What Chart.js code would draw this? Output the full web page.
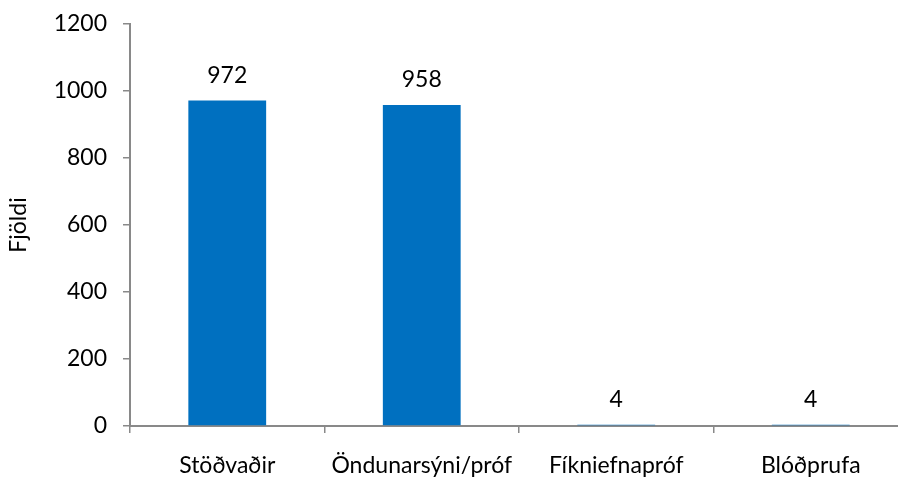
<!DOCTYPE html>
<html lang="is">
<head>
    <meta charset="UTF-8">
    <title>Fjöldi</title>
    <script src="https://cdn.jsdelivr.net/npm/chart.js"></script>
    <style>
        html, body {
            margin: 0;
            padding: 0;
            background: #ffffff;
            overflow: hidden;
        }
        #wrap {
            width: 912px;
            height: 479px;
        }
    </style>
</head>
<body>
    <div id="wrap">
        <canvas id="myChart" width="912" height="479"></canvas>
    </div>

    <script>
        const categories = ['Stöðvaðir', 'Öndunarsýni/próf', 'Fíkniefnapróf', 'Blóðprufa'];
        const counts = [972, 958, 4, 4];
        const yMin = 0;
        const yMax = 1200;
        const yStep = 200;

        const fontFamily = 'Lato, "Open Sans", sans-serif';
        const fontSize = 23;
        const axisGray = '#898989';

        // Tölur fyrir ofan hverja súlu
        const valueLabels = {
            id: 'valueLabels',
            afterDatasetsDraw(chart) {
                const ctx = chart.ctx;
                const meta = chart.getDatasetMeta(0);
                ctx.save();
                ctx.font = fontSize + 'px ' + fontFamily;
                ctx.fillStyle = '#000000';
                ctx.textAlign = 'center';
                ctx.textBaseline = 'middle';
                meta.data.forEach((bar, i) => {
                    ctx.fillText(String(counts[i]), bar.x, bar.y - 25);
                });
                ctx.restore();
            }
        };

        const ctx = document.getElementById('myChart').getContext('2d');
        const chart = new Chart(ctx, {
            type: 'bar',
            data: {
                labels: categories,
                datasets: [{
                    data: counts,
                    backgroundColor: '#0070C0',
                    borderWidth: 0,
                    barPercentage: 0.4,
                    categoryPercentage: 1.0
                }]
            },
            options: {
                responsive: false,
                animation: false,
                layout: {
                    padding: { top: 24, right: 4, left: 0, bottom: 0 }
                },
                scales: {
                    x: {
                        grid: {
                            display: true,
                            offset: true,
                            drawOnChartArea: false,
                            drawTicks: true,
                            tickLength: 7,
                            color: axisGray,
                            lineWidth: 1.5
                        },
                        border: {
                            display: true,
                            color: axisGray,
                            width: 2
                        },
                        ticks: {
                            color: '#000000',
                            font: { family: fontFamily, size: fontSize },
                            padding: 19,
                            maxRotation: 0
                        },
                        afterFit(scale) {
                            scale.height = 53;
                        }
                    },
                    y: {
                        min: yMin,
                        max: yMax,
                        grid: {
                            display: true,
                            drawOnChartArea: false,
                            drawTicks: true,
                            tickLength: 7,
                            color: axisGray,
                            lineWidth: 1.5
                        },
                        border: {
                            display: true,
                            color: axisGray,
                            width: 2
                        },
                        ticks: {
                            stepSize: yStep,
                            color: '#000000',
                            font: { family: fontFamily, size: fontSize },
                            padding: 16,
                            callback: (value) => String(value)
                        },
                        title: {
                            display: true,
                            text: 'Fjöldi',
                            color: '#000000',
                            font: { family: fontFamily, size: fontSize },
                            padding: { top: 5, bottom: 0 }
                        },
                        afterFit(scale) {
                            scale.width = 130;
                            scale.paddingTop = 0;
                            scale.paddingBottom = 0;
                        }
                    }
                },
                plugins: {
                    legend: { display: false },
                    tooltip: { enabled: false }
                }
            },
            plugins: [valueLabels]
        });
    </script>
</body>
</html>
